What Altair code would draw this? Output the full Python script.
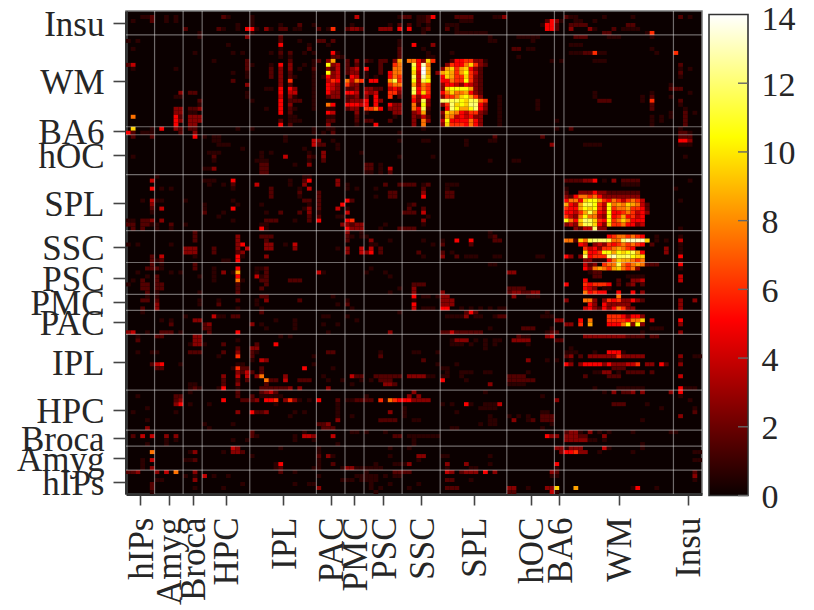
import altair as alt
import pandas as pd

region_labels = ["hIPs","Amyg","Broca","HPC","IPL","PAC","PMC","PSC","SSC","SPL","hOC","BA6","WM","Insu"]
region_centers = [3,9,14,21,33,43,48,54,62,73,85,91,103.5,118]
region_edges = [6,12,16,26,40,46,50,58,66,80,90,92,115]
cbar_ticks = [0,2,4,6,8,10,12]
N = 121
# what each cell digit stands for, read against the colour bar
digit_values = [0,0.7,1.5,2.6,3.8,5,6,7.5,8.5,9.5,10.5,11.5,12,13,14]

# row from the top -> "startcol:digits" (one base-15 digit per cell, 0 = empty)
upper_left = {
1:"3:112 8:1 10:1 20:21 26:1 48:4 57:122", 2:"1:1 5:2 8:1 10:1 26:1",
3:"23:1 26:1 32:1 36:2 39:1 47:1 55:1 57:2 59:2",
4:"12:2 19:21 23:1 25:551 29:31 32:22 35:11 40:2 42:16 46:2332 53:333 57:5 59:5",
5:"15:1 26:1", 6:"15:1 25:3 32:2", 7:"0:1 2:1 32:2 36:1 40:22 43:2 57:1",
8:"21:1 32:5 38:1 42:1 57:1 60:5", 9:"1:1 32:1 38:2 57:2",
10:"14:1 22:1 24:1 30:1 32:2 34:2 37:1 39:1 43:51 57:2", 11:"32:1 34:1 43:221 57:2",
12:"18:1 25:2 34:2 39:1 40:203800203021022038077",
13:"0:24 10:0 25:21 30:1 32:5 34:3 37:1 39:1 40:00a3402020000200670",
14:"1:1 10:1 25:2 30:2 32:3 34:3 36:1 39:2 40:0032402340500200770",
15:"22:1 25:1 30:2 32:3 34:2 39:1 40:00a340233010020577",
16:"25:1 30:2 32:3 34:2 35:1 39:1 40:0153400540101005760",
17:"22:2 32:3 34:6 39:1 40:004650747605500 55:8b6",
18:"25:3 32:3 34:2 39:1 40:005430633000000 55:677",
19:"29:11 32:5 34:5 35:3 39:1 40:0054302230332204 55:454",
20:"11:3 13:22 25:1 32:5 34:4 35:4 39:1 40:005330554043400 55:663",
21:"10:11 25:1 32:4 34:3 35:1 39:1 40:002330223030500 55:602",
22:"15:2 26:1 32:5 34:2 35:2 36:2 39:1 46:2333505 53:3",
23:"15:1 32:5 34:3 39:1 40:0075005554 50:505 55:533",
24:"10:33 13:223 29:1 32:5 34:2 35:1 39:1 42:11 46:23306675 55:333",
25:"10:33 13:11 32:5 34:2 42:54 48:3 50:1 56:33",
26:"1:7 10:52 13:333 32:0 34:1 35:1 42:11 48:2 56:1",
27:"10:53 13:333 32:2 34:1 35:1 36:1 42:22 48:2 50:22 55:2",
28:"10:5 13:33 32:5 34:2 42:3 48:1 52:5",
29:"1:9 5:1 7:5 10:32 13:22 23:1 26:1 39:1 42:1 43:1",
30:"0:52 3:111 11:2 14:3 39:1 41:1 43:2 57:1",
31:"1:2 5:2 14:5 16:1 18:11 33:1",
32:"18:11 33:1 39:43 43:1 57:1", 33:"19:111 39:42 41:2 44:1", 34:"24:1 37:1 44:1",
35:"17:111 28:1 30:1 38:1 41:3 49:1", 36:"1:1 18:2 28:1 33:4 38:21 41:3 57:1",
37:"18:1 27:111 38:1 41:2", 38:"28:22 35:1 38:3 50:22 53:1",
39:"16:113 28:22 50:22 53:1 55:4", 40:"28:22 50:11 53:1 55:2", 41:"6:1 37:11",
42:"5:4 16:11 18:1 22:5 34:1 37:2 38:5 44:3", 43:"17:1 20:1 22:2 27:4 34:1 37:3 44:3 46:1 54:2 57:2222",
44:"5:5 7:1 9:1 22:1 30:2 36:1 38:4 46:1 48:1 52:1", 45:"30:2 36:2 40:2 55:22",
46:"30:2 36:1 40:2 52:1 55:22", 47:"3:1 5:411 12:1 22:1 37:22 40:2 46:52",
48:"5:3 16:1 23:1 28:1 38:1 40:2 45:5 59:12", 49:"5:2 7:4 16:1 22:5 37:13 40:2 44:4 46:1 59:2",
50:"5:1 16:2 20:1 29:1 32:2 36:2 38:3 40:1 46:4 58:222", 51:"19:1 38:2 40:2 44:1 45:1",
52:"0:11 3:223 7:3 22:1 29:222 35:1 38:2 40:5 46:56", 53:"0:22 3:221 6:1 9:2 12:1 28:11 45:33 47:233 54:1",
54:"1:2 3:2 6:1 9:1 28:5 29:1 46:5 47:333 53:1 57:2222",
55:"14:2 46:3 49:1", 56:"14:2 23:3 28:222 46:2 47:1 49:11", 57:"14:2 23:3 29:2 46:2 51:3 55:1",
58:"0:1 2:1 9:1 23:35 29:33 33:1 35:4 51:11", 59:"12:333 18:2 23:3 25:4 29:33 35:3 44:1 46:3 49:4 51:4 53:2",
60:"12:333 18:2 23:23 46:3 49:43 51:5 53:2",
}
upper_right = {
1:"61:1125 69:2222 77:113 92:2 93:11 100:1 106:1 116:2 118:1",
2:"61:112 70:111 88:2531 94:11 98:1", 3:"61:1 63:1 67:111 87:1552 93:2222 105:22",
4:"62:12 67:2 69:1 88:552 93:3 97:31 102:2 104:1111", 5:"62:1 69:1111111 100:22 109:16",
6:"76:1 82:11111 94:222 101:111 110:1", 7:"76:11 85:1", 8:"60:5 64:3 93:111", 9:"62:1 81:22 84:11 110:1",
10:"63:1 68:1 93:111222 98:611 111:1 115:6", 11:"63:11 82:1", 12:"60:7539600 68:2556633 75:1 89:1 91:1 98:111",
13:"60:b5d7 67:365579632 116:2", 14:"60:a5e8 66:389689532 116:1 118:1", 15:"60:94e8 65:3 66:8986 70:8a642 116:2",
16:"60:b4d9 66:5986 70:69632 116:1", 17:"60:a4ba 66:5576 70:6a632",
18:"60:8476 66:3554 70:354 73:32 114:1", 19:"60:b576 66:39aa 70:aa832 114:222", 20:"60:b596 66:5797 70:785 73:32 98:1 110:1 118:1",
21:"60:6355 66:3667 70:9a86 74:3 78:1 98:1 108:1 110:2 114:1", 22:"60:53b3 66:ccbb 70:a9bb 74:76 78:1 86:1 99:222 108:1 110:6 116:2",
23:"60:72a3 66:36c9 70:a9cc 74:53 78:1 86:1 110:2 116:1", 24:"60:75b2 66:05ca 70:88ac 74:53 78:1 86:1 110:2 117:1",
25:"60:3481 66:3987 70:5466 74:32 78:1 114:1 117:2 119:1", 26:"60:3242 66:2874 70:5453 74:3 78:1 110:1 112:1 114:1 117:2",
27:"60:3073 66:4a55 70:5575 74:3 78:1 90:1 110:1 112:1 117:2", 28:"60:3070 66:3966 70:6575 74:3 78:1 110:1 117:2",
29:"62:1 90:1 93:2 116:1", 30:"116:221", 31:"77:2 87:2 116:222", 32:"62:11 71:1 76:11 116:553",
33:"71:1 89:3 96:1111 116:111", 36:"64:1 117:1", 37:"76:1 81:11",
42:"92:2222335 100:1 102:3 104:2222 118:1", 43:"62:12 67:111 104:1111", 44:"62:2 67:1 92:1 115:1",
45:"62:3 67:22 92:2 95:33353 100:32222222", 46:"62:5 67:22 92:3257 96:76753333 104:3333",
47:"92:57759aa8 100:65764 105:676 108:4 116:1", 48:"92:8548bba6 100:4a787 105:987 108:42",
49:"62:2 92:6558a9a6 100:4a677 105:866 108:52", 50:"62:4 92:55468b85 100:4a556 105:764 108:53",
51:"63:1 92:64 94:37a774 100:3a568 105:564 108:5", 52:"62:3 92:a7 94:59cb96 100:5a679 105:755 108:5",
53:"62:1 92:34 94:38bb95 100:39667 105:553 108:4", 54:"92:0032 96:44c3 100:3 116:1",
55:"76:1", 56:"76:12 101:56776765 111:1 116:1", 57:"62:1 66:1 69:5 72:5 77:22 92:77297 97:bcccb 102:77cdd 106:ddd9 111:1 113:1 116:4",
58:"64:1 66:2 72:2 95:54 98:343 101:6 102:5676765 110:2 116:1", 59:"96:64 98:536 101:6 102:78765 113:3 116:1",
60:"61:2 66:2 68:1 96:95 98:56a 101:a 102:8a9ab8 108:5 113:3 116:1",
}
lower_left = {
61:"5:2 7:4 14:1 23:51 29:3", 62:"5:21 7:2 20:11 23:5", 63:"5:2 7:1 14:2",
64:"4:22 6:21 14:2 18:1 23:5 27:112 51:1", 65:"2:1 9:1 11:1 18:1 20:3 22:18 27:1 29:2 40:41 50:1 54:1",
66:"4:1 6:2 15:1 18:1 23:5 27:41 29:2 55:1", 67:"1:1 3:2 6:2 18:1 23:71 28:22 34:222",
68:"0:1 3:22 6:22 23:2 29:2", 69:"3:22 6:22 23:2 28:2 57:1 60:5", 70:"4:2 6:1 15:1 23:2 55:1 60:3",
71:"4:1 6:1 28:22 43:1", 72:"3:22 6:2 15:1 19:1 23:2 27:1 29:3 36:2 46:1 60:1", 73:"6:3 15:1 19:2 27:1 44:1 46:2 60:5",
74:"3:2 6:3 23:1 28:1 47:1", 75:"3:1 28:2 57:1", 76:"12:1 18:411 22:22 41:11 46:1",
77:"7:1 9:1 14:33 31:1 35:1 48:1", 78:"9:2 16:23 26:3 28:1 35:1 41:1 44:1", 79:"16:22 29:1 35:1",
80:"0:34 4:1 7:222 11:1 17:2 23:5 42:1 55:3", 81:"2:1 6:22 14:33 32:1 34:1", 82:"2:2 14:33 23:1",
83:"13:1 14:33 16:1 20:2 27:2 31:5", 84:"23:2 26:33", 85:"2:1 5:11 13:222 20:2 23:3 26:2 27:1 42:22 53:1",
86:"19:1 23:6 26:2 39:1 53:2", 87:"26:1 28:43", 88:"5:245 11:1 23:1 24:1 39:1", 89:"6:22 22:16 24:22 28:2 37:5 43:1",
90:"23:3 24:24 26:2 28:2", 91:"20:3 23:4 25:4 27:37 33:3 41:1 47:422 52:222222 59:3",
92:"20:2 23:2 25:2 29:722 33:4 36:222 42:1 45:1 49:1 51:1 53:222", 93:"13:11 20:2 23:3 29:2 47:1 54:332",
94:"13:121 19:15 23:1 28:222222 34:3 36:3 42:3", 95:"13:1 23:2 28:2342",
96:"2:1 10:22 23:2 26:2 28:11111 50:1 59:3",
97:"10:23 20:5 24:2223 29:556 33:363 36:1 38:1 40:5 44:2 46:11 48:2222 53:61765 58:555",
98:"10:35 13:1 17:1 31:1 44:1", 99:"4:1 44:1 58:1", 100:"1:1 10:1 23:3 26:5223 35:1 37:1 44:1 55:3 58:1",
101:"34:1 44:1 47:1 58:1", 102:"4:1 44:3 53:2222 60:1", 103:"16:1 22:1 40:223", 104:"4:3 17:1 41:222",
105:"26:2 37:1 47:11 50:1 54:1", 106:"1:2 3:4 5:4 8:3 10:3 26:21 35:1 37:443 43:4 56:22 59:11",
107:"8:1 10:1 22:1 25:1 35:1 39:1 60:1", 108:"4:1 8:1 44:1 60:1", 109:"22:43 32:1 40:1 55:1 59:1",
110:"5:7 13:13 20:1 22:332 40:1", 111:"26:1 40:2 42:31 55:1", 112:"3:1 5:4 12:112 40:1",
113:"3:1 31:15 40:1 43:2 52:1 56:1111 59:3", 114:"3:1 5:3 31:12 39:11 45:133 48:111111",
115:"0:223 6:3 8:4 10:7 14:3 32:2 35:1 50:1 56:2222", 116:"12:1 14:1 16:4 18:1 21:1 40:1 48:11111 54:1 56:11",
117:"6:11 14:3 45:111 49:1111", 118:"5:2 24:1 35:1 38:11 51:1 55:1", 119:"5:2 14:1 20:1 40:3 51:1 53:1 59:1", 120:"5:1 52:1",
}
lower_right = {
61:"62:1 66:3 69:2 71:111 77:11 86:11 92:53 95:3 96:c 97:5666 101:cdbb 105:ca99 116:5",
62:"96:33 98:111 101:5 102:7988767 116:1", 63:"76:1 77:1 96:42 98:3 100:67 102:7b7 105:6787 109:222 116:5",
64:"96:53 98:787 101:6 102:897 105:673 116:1", 65:"80:33 97:122", 66:"98:22 105:1111 116:4",
67:"96:5 103:2 106:334 116:4", 68:"60:222 92:5 96:656 99:665 103:2 105:23 108:2",
69:"60:3 80:2222 96:543 100:11", 70:"66:3 80:23322 85:33 96:75655 103:5 106:5 108:3",
71:"60:5 62:11 65:1 66:33 81:3 84:111 103:7", 72:"66:333 92:3 96:773 100:3 101:65 103:633 106:532 116:3 119:3",
73:"66:333 97:53 100:5 101:333 104:33 116:3", 74:"60:4 62:111 66:55 70:1 72:1 74:1 76:1 78:11 96:45325 101:3 102:5763 106:3 116:3",
75:"71:252 88:1", 76:"67:1111 71:3 73:11 77:122 87:111 101:666 104:53 106:553",
77:"90:33 95:5 97:7 101:666 104:65 106:779 110:4 116:5", 78:"92:33 95:6 97:8 101:555 104:7a3 107:a3 116:3",
79:"76:1 83:222 89:1 110:111", 80:"66:22422222 74:2 88:122 108:1 116:3", 81:"82:211 88:34 96:3 97:33333333 105:2222 110:22",
82:"68:1333 73:1 75:1 77:11 81:3333 90:22", 83:"68:111 72:1 75:1 77:1 84:1", 84:"75:1 93:1",
85:"60:11 65:1 92:1 93:11 98:1 101:555 104:1", 86:"92:23 95:2 97:3 98:33333 103:6 104:33333 116:3 119:11",
87:"62:2 84:3 88:1 90:1 93:1 116:1", 88:"65:1 69:1 92:53 95:35555 100:35 102:33 104:344 107:6 109:33 112:52 116:3",
89:"66:11 102:222", 90:"67:1 70:111 75:11 84:1 98:11 100:33 103:1 105:2222 110:2",
91:"60:3331 64:1 66:11 70:1 80:2222 96:2 101:222 116:4", 92:"66:5 71:1 80:222222", 93:"76:3 80:1111",
94:"98:1 103:111111 116:5 117:111", 95:"60:3 75:1 100:1 102:3 104:223 108:3 114:3 116:5", 96:"61:3 87:1 116:1",
97:"60:3333 90:3 118:1", 98:"66:1 68:1 71:5 72:1 75:1114 102:222 109:1", 99:"74:1111 112:1 119:1",
100:"69:1 87:11 119:2", 101:"76:1 80:1 82:1 84:1 87:222 116:3", 102:"60:11 76:11 81:3 84:12 87:222 108:1",
103:"74:1 76:11 89:1", 104:"68:11 87:1", 105:"92:233 95:1 97:3 99:1 101:1 106:1 114:11",
106:"61:11111 88:533 92:3 93:3322 100:3", 107:"92:33333 97:11 100:1", 108:"108:1",
109:"90:33 92:1 93:333 100:4 101:1 108:1", 110:"91:355 94:6 95:33 99:1 106:1 119:11",
111:"61:33 66:11 76:1", 112:"61:1 119:11", 113:"67:3 71:3 76:1 90:5", 114:"67:1 72:1 73:1 90:1",
115:"67:43 70:2333 75:5 77:3 89:32 119:2", 116:"89:1 90:1 119:3", 117:"67:22 72:1 119:1", 118:"61:1",
119:"67:222 80:33 84:1 88:3 89:3 90:9 94:8 106:15 111:1", 120:"80:22 89:4 90:1",
}

cells = {}
for block in (upper_left, upper_right, lower_left, lower_right):
    for row, text in block.items():
        for token in text.split():
            start, digits = token.split(":")
            for k, ch in enumerate(digits):
                d = int(ch, 15)
                if d:
                    cells[(row, int(start) + k)] = digit_values[d]

df = pd.DataFrame(
    [{"x": c, "x2": c + 1, "y": N - 1 - r, "y2": N - r, "v": v} for (r, c), v in cells.items()]
)

def label_expr(values, labels):
    return "{" + ",".join(f"'{v}':'{l}'" for v, l in zip(values, labels)) + "}[datum.value]"

FONT = "Liberation Serif"
TXT = "#262626"
FS = 35
xs = alt.Scale(domain=[0, N], nice=False, zero=False)
ys = alt.Scale(domain=[0, N], nice=False, zero=False)

heat = alt.Chart(df).mark_rect(strokeWidth=0).encode(
    x=alt.X("x:Q", scale=xs, title=None, axis=alt.Axis(
        values=region_centers, labelExpr=label_expr(region_centers, region_labels),
        labelAngle=270, labelAlign="right", labelBaseline="middle", labelFont=FONT, labelFontSize=FS,
        labelColor=TXT, labelPadding=12, labelOffset=1, tickSize=11, tickWidth=1.6, tickColor="#444444",
        domainColor="#333333", domainWidth=3, grid=False, labelOverlap=False)),
    x2="x2:Q",
    y=alt.Y("y:Q", scale=ys, title=None, axis=alt.Axis(
        values=region_centers, labelExpr=label_expr(region_centers, region_labels),
        labelFont=FONT, labelFontSize=FS, labelColor=TXT, labelPadding=9, labelOffset=1.5, tickSize=13,
        tickWidth=1.6, tickColor="#444444", domainColor="#333333", domainWidth=3,
        grid=False, labelOverlap=False)),
    y2="y2:Q",
    color=alt.Color("v:Q", legend=None, scale=alt.Scale(
        domain=[0, 5.11, 10.44, 14], range=["#0b0000", "#ff0000", "#ffff00", "#ffffff"], interpolate="rgb")),
)

vlines = alt.Chart(pd.DataFrame({"v": region_edges})).mark_rule(color="#ffffff", opacity=0.42, strokeWidth=1.2).encode(
    x=alt.X("v:Q", scale=xs, axis=None))
hlines = alt.Chart(pd.DataFrame({"v": region_edges})).mark_rule(color="#ffffff", opacity=0.42, strokeWidth=1.2).encode(
    y=alt.Y("v:Q", scale=ys, axis=None))

cbs = alt.Scale(domain=[0, 14], range=[484.5, 3.5], nice=False, zero=False)
grad = alt.Gradient(gradient="linear", x1=0, y1=1, x2=0, y2=0, stops=[
    alt.GradientStop(color="#0b0000", offset=0), alt.GradientStop(color="#ff0000", offset=0.365),
    alt.GradientStop(color="#ffff00", offset=0.746), alt.GradientStop(color="#ffffff", offset=1)])
cbar = alt.Chart(pd.DataFrame({"lo": [0], "hi": [14]})).mark_rect(
    fill=grad, stroke="#333333", strokeWidth=1.6).encode(
    x=alt.value(583), x2=alt.value(622),
    y=alt.Y("lo:Q", scale=cbs, title=None, axis=alt.Axis(
        orient="right", values=[0,2,4,6,8,10,12,14], labelFont=FONT, labelFontSize=34, labelColor=TXT,
        labelPadding=59, tickSize=0, domain=False, grid=False, labelOverlap=False, labelFlush=False,
        labelOffset={"condition": {"test": "datum.value == 14", "value": 5}, "value": 2})),
    y2="hi:Q")
cticks = alt.Chart(pd.DataFrame({"v": cbar_ticks})).mark_rule(color="#666666", strokeWidth=1.4).encode(
    x=alt.value(612), x2=alt.value(622), y=alt.Y("v:Q", scale=cbs, axis=None))

chart = alt.layer(heat, vlines, hlines, cbar, cticks).resolve_scale(
    x="independent", y="independent", color="independent"
).properties(
    width=576, height=483,
    autosize=alt.AutoSizeParams(type="none"),
    padding={"left": 118, "top": 3, "right": 104, "bottom": 112},
    background="white",
).configure_view(fill="#0b0000", stroke="#777777", strokeWidth=1.5)

chart.save("out.html", embed_options={"renderer": "svg", "actions": False})
